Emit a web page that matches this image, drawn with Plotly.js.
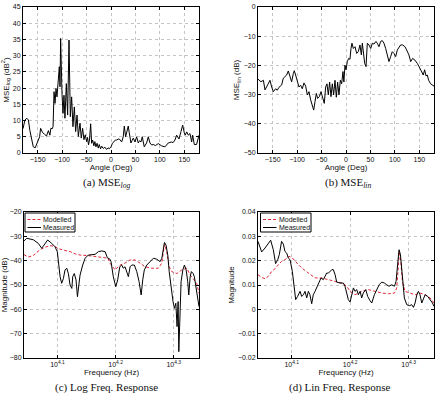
<!DOCTYPE html>
<html><head><meta charset="utf-8">
<script src="https://cdn.plot.ly/plotly-3.0.1.min.js"></script>
<style>html,body{margin:0;padding:0;background:#fff;}#chart{width:435px;height:396px;}</style>
</head><body><div id="chart"></div>
<script>
// (a) MSE_log vs angle
const angleLog = [-180,-176,-172,-169,-166,-162,-159,-155,-152,-149,-146,-144,-140,-136,-132,-128,-125,-123,-120,-118.5,-118,-116.5,-114.5,-112.5,-110.5,-108,-105.7,-104.3,-103,-100.2,-98.2,-96.2,-94.2,-91.4,-88.7,-85.9,-83.2,-80.5,-77.8,-75,-72.3,-69.5,-66.8,-63.4,-60.8,-58,-55.3,-52.6,-49.8,-48,-46,-44,-41.6,-39.6,-37.5,-35,-33,-30.8,-28.5,-26,-24,-21.3,-19,-15.8,-12.5,-9,-6,-3.6,0,3,6,9,11.6,15,18,21.8,25,27.2,29.9,32.6,35.3,37.4,40.8,43,45.6,49,52.4,55.8,58.5,61.3,64,68,72.8,76.3,79.7,83,86.5,91,96.7,103.5,110.4,117.2,124,127,130.8,134.3,139,143.1,146.6,150,152,154.8,158.2,161.6,165,167,170.4,175,180];
const mseLog = [7.5,10.2,10.7,10.2,7,4,1.9,1.6,2.8,4,5,7.6,6.3,5.8,5.2,6.9,5.5,7.6,7.5,8.2,14.8,18.9,15.3,19.9,17.3,22,26.6,20.4,35.3,18.3,12.2,17.8,10.7,21.4,11.7,34.8,11.2,17.3,8.1,14.2,6.6,11.7,5.1,9.2,4.6,7.6,4.1,5.6,3.5,4.8,2.5,4,9,3,4,2.2,3.5,1.9,3,1.5,2.6,1.3,2.1,1.4,1.8,1.1,1.6,1.3,1.9,3,3.6,4,4,4.3,4.2,3.4,5,8.3,5,6.6,8.3,6.2,3.1,3.8,4.6,3.4,5,3.1,3.8,3.4,5,1.9,3.1,5,3.1,2.5,2.6,2.3,2.9,2.2,1.9,3.1,3.4,3.2,4,5.5,4.3,6.6,8.6,6.2,5.5,6.5,5.5,6,3.4,5.5,2.6,2.6,5.5];

// (b) MSE_lin vs angle
const angleLin = [-180,-174,-169,-165.7,-160,-155.5,-152,-148.7,-144,-140.6,-137,-131.6,-128.3,-124.8,-121.4,-118,-114.6,-111.2,-107.8,-105.8,-103,-100.4,-96.2,-92.8,-89.4,-86,-82.5,-79.1,-75.7,-72.3,-68.9,-66.1,-63.4,-60.7,-58,-54.5,-51.2,-47.8,-44.4,-41.6,-38.9,-36.2,-33.5,-30.7,-28,-25.3,-22.5,-19.8,-17.1,-14.4,-11.6,-8.9,-6.2,-4.3,-2.1,0,2.7,5.4,8.1,10.2,12.2,15,18.4,21.8,25.2,28.6,31.4,33.4,35.5,38.2,40.9,43.6,47,50.5,53.9,57.2,61.3,64,67.4,70.9,74.2,77.7,81.1,84.5,87.9,91.3,94.6,98.1,101.6,105,108.3,111.7,115.9,120.6,124,128.7,132.3,136.3,141,145.8,151.3,154.7,158,160.8,163.6,166.3,169,173.1,177.3,180];
const mseLin = [-24.7,-25.6,-25.1,-28.4,-26.6,-25.1,-27.4,-29,-28,-28.5,-27.5,-26.7,-24.4,-23.9,-23.3,-21.9,-23.9,-25.6,-22.8,-21.8,-23.3,-25.1,-27.4,-26.8,-28,-26,-27.1,-30.1,-29,-31.8,-33.6,-35.3,-32.4,-29.6,-31.3,-30.7,-29,-31.3,-33,-27.4,-26.3,-30.1,-25.7,-30.7,-26.3,-30.1,-25.1,-30.9,-25.7,-30.1,-25.1,-26.3,-22.1,-25.7,-19.9,-21.5,-18.7,-17.6,-17.9,-14.2,-12.4,-14.2,-13.6,-15.9,-15.3,-13,-16.4,-12.4,-14.7,-19.3,-20.4,-12.4,-13,-14.2,-12.4,-12.7,-11.8,-12.4,-13.6,-11.8,-11.5,-12.4,-14.2,-17,-18.7,-17,-15.3,-15.9,-17,-14.7,-13.6,-13,-13,-13.6,-14.7,-16.4,-18.7,-17.6,-18.2,-19.3,-21,-22.1,-23.3,-21.5,-23.6,-23.3,-25.1,-26.3,-26.8,-27.1];

// (c) Log frequency response (dB)
const freqLogMeas = [11025,11143,11436,11668,11826,11981,12110,12304,12467,12580,12650,12719,12799,12888,12970,13060,13142,13233,13325,13371,13455,13548,13624,13700,13766,13910,14046,14222,14420,14611,14805,15001,15200,15338,15498,15563,15704,15857,15979,16112,16236,16337,16451,16566,16669,16785,16890,17067,17233,17390,17535,17645,17756,17929,18167,18408,18652,18900,19031,19151,19231,19351,19486,19594,19744,19895,20006,20117,20215,20299,20355,20440,20539,20682,20812,20956,21087,21175,21292,21396,21545,21649,21800,21952,22050];
const magLogMeas = [-31.9,-30.8,-31.4,-32.9,-34.9,-32.9,-31.5,-32.9,-34.3,-36.3,-42.5,-46.6,-49.3,-47.3,-43.8,-43.1,-45.3,-50,-51.4,-46.6,-45.3,-47.9,-54.8,-49.3,-45.9,-41.8,-39,-37.7,-37.7,-37.4,-36.3,-36,-36.3,-38.8,-39.4,-40.4,-46.6,-50.7,-47.9,-42.5,-41.8,-43.1,-42.5,-44.5,-46.6,-42.5,-41.8,-41.8,-44.5,-48.6,-54.1,-47.9,-43.8,-41.8,-40.4,-39,-39.4,-40.4,-39,-34.3,-32.5,-33.6,-37.7,-44.5,-52,-56.8,-59.6,-57.5,-67.1,-56.8,-77.4,-62.3,-48.6,-43.8,-41.8,-43.8,-48.6,-54.1,-46.6,-44.5,-45.3,-46.6,-51.4,-54.8,-58.9];
const freqLogModel = [11025,11201,11420,11745,11981,12223,12467,12617,12818,13233,13501,13766,14320,14897,15380,15498,15810,16129,16451,16785,17114,17459,17803,18291,18770,19031,19151,19231,19402,19594,19796,20198,20594,21012,21292,21550,21851,22050];
const magLogModel = [-37.5,-38.5,-38,-35.5,-34.5,-33.8,-34.2,-35,-35.5,-36.3,-37.2,-37.7,-38,-38.4,-39,-41,-43.8,-41.8,-41,-39.7,-39.7,-41,-42.5,-43.1,-43.1,-41,-35,-33.3,-36.3,-42.5,-44.5,-45.3,-43.8,-43.1,-45.9,-47.3,-49.3,-53.4];

// (d) Linear frequency response
const freqLinMeas = [11025,11186,11335,11485,11589,11710,11816,11915,11990,12098,12183,12259,12344,12421,12508,12621,12717,12788,12886,13012,13093,13184,13267,13359,13443,13527,13621,13706,13802,13888,14024,14131,14259,14359,14449,14549,14640,14742,14834,14938,15031,15230,15432,15529,15635,15735,15844,15943,16054,16155,16267,16369,16483,16586,16690,16853,16982,17136,17255,17436,17594,17766,17952,18139,18304,18470,18663,18871,18989,19121,19214,19321,19415,19523,19618,19809,20016,20198,20338,20466,20608,20737,20867,21012,21144,21291,21513,21708,21917,22050];
const magLinMeas = [0.0279,0.0236,0.0252,0.0273,0.0284,0.0245,0.0188,0.0204,0.0225,0.0279,0.0268,0.0238,0.0231,0.0211,0.0204,0.0156,0.0088,0.004,0.0053,0.0074,0.0053,0.006,0.0074,0.0047,0.0074,0.006,0.0023,0.006,0.0074,0.0088,0.0115,0.0129,0.0122,0.0136,0.0149,0.0149,0.0156,0.0163,0.0163,0.0142,0.0112,0.0108,0.0108,0.0095,0.0067,0.004,0.003,0.006,0.0088,0.0074,0.0081,0.006,0.0074,0.0047,0.0067,0.0081,0.0053,0.0036,0.0026,0.006,0.0081,0.0101,0.0112,0.0108,0.0101,0.0095,0.0101,0.0095,0.0115,0.0204,0.0245,0.0225,0.0156,0.0081,0.0047,0.0019,0.0015,0.0019,0.0008,0.0026,0.006,0.0074,0.006,0.0026,0.0047,0.006,0.0053,0.004,0.0026,0.0012];
const freqLinModel = [11025,11186,11335,11485,11638,11792,11948,12098,12259,12456,12621,12753,12922,13093,13267,13527,13802,14170,14549,14938,15329,15635,15844,16155,16586,17029,17484,17952,18431,18871,19042,19161,19241,19348,19469,19672,20072,20466,20867,21291,21708,22050];
const magLinModel = [0.0142,0.0131,0.0126,0.0136,0.0156,0.0167,0.0184,0.0197,0.0204,0.0218,0.0211,0.0197,0.0184,0.017,0.0159,0.0142,0.0129,0.0129,0.0122,0.0112,0.0108,0.0095,0.0074,0.006,0.0074,0.0081,0.0074,0.0067,0.0064,0.0067,0.0088,0.0211,0.0238,0.0197,0.0115,0.0074,0.0067,0.006,0.0067,0.006,0.0047,0.0026];

// ticks and labels
const angleTicks = [-150,-100,-50,0,50,100,150];
const freqTickVals = [12589.254, 15848.932, 19952.623];
const freqTickText = ['10<sup>4.1</sup>','10<sup>4.2</sup>','10<sup>4.3</sup>'];
const freqRange = [11025, 22050];
const seriesNames = ['Modelled','Measured'];

const W = 435, H = 396;
const PX = x => x / W, PY = y => 1 - y / H;
const sans = '"Liberation Sans", Arial, sans-serif';
const serif = '"Liberation Serif", "DejaVu Serif", serif';
const tickFont = {family: sans, size: 7, color: '#111'};
const titleFont = {family: sans, size: 8, color: '#111'};
const measLine = {color: '#000', width: 1};
const modelLine = {color: '#e0283a', width: 1, dash: '3px,2px'};

function axis(extra) {
  return Object.assign({
    showline: true, linecolor: '#000', linewidth: 1, mirror: 'ticks',
    ticks: 'inside', ticklen: 3, tickcolor: '#000', tickwidth: 1,
    showgrid: true, gridcolor: '#c4c4c4', griddash: 'dot', gridwidth: 1,
    zeroline: false, tickfont: tickFont, automargin: false
  }, extra);
}

const traces = [
  {x: angleLog, y: mseLog, xaxis: 'x', yaxis: 'y', mode: 'lines', line: measLine, showlegend: false},
  {x: angleLin, y: mseLin, xaxis: 'x2', yaxis: 'y2', mode: 'lines', line: measLine, showlegend: false},
  {x: freqLogModel, y: magLogModel, xaxis: 'x3', yaxis: 'y3', mode: 'lines', line: modelLine, name: seriesNames[0], showlegend: false},
  {x: freqLogMeas, y: magLogMeas, xaxis: 'x3', yaxis: 'y3', mode: 'lines', line: measLine, name: seriesNames[1], showlegend: false},
  {x: freqLinModel, y: magLinModel, xaxis: 'x4', yaxis: 'y4', mode: 'lines', line: modelLine, name: seriesNames[0], showlegend: false},
  {x: freqLinMeas, y: magLinMeas, xaxis: 'x4', yaxis: 'y4', mode: 'lines', line: measLine, name: seriesNames[1], showlegend: false}
];

const logR = [Math.log10(freqRange[0]), Math.log10(freqRange[1])];
const layout = {
  width: W, height: H, margin: {l: 0, r: 0, t: 0, b: 0},
  paper_bgcolor: '#fff', plot_bgcolor: '#fff', showlegend: false,
  font: {family: sans, size: 8, color: '#111'},
  xaxis: axis({domain: [PX(23), PX(199)], anchor: 'y', range: [-180, 180], tickvals: angleTicks,
    title: {text: 'Angle (Deg)', font: titleFont, standoff: 0}}),
  yaxis: axis({domain: [PY(153), PY(7)], anchor: 'x', range: [0, 45], dtick: 5,
    title: {text: 'MSE<sub>log</sub> (dB<sup>2</sup>)', font: titleFont, standoff: 2}}),
  xaxis2: axis({domain: [PX(258), PX(434)], anchor: 'y2', range: [-180, 180], tickvals: angleTicks,
    title: {text: 'Angle (Deg)', font: titleFont, standoff: 0}}),
  yaxis2: axis({domain: [PY(153), PY(7)], anchor: 'x2', range: [-50, 0], dtick: 10,
    title: {text: 'MSE<sub>lin</sub> (dB)', font: titleFont, standoff: 2}}),
  xaxis3: axis({domain: [PX(24), PX(199)], anchor: 'y3', type: 'log', range: logR,
    tickmode: 'array', tickvals: freqTickVals, ticktext: freqTickText,
    title: {text: 'Frequency (Hz)', font: titleFont, standoff: 1}}),
  yaxis3: axis({domain: [PY(358), PY(212)], anchor: 'x3', range: [-80, -20], dtick: 10,
    title: {text: 'Magnitude (dB)', font: titleFont, standoff: 2}}),
  xaxis4: axis({domain: [PX(258), PX(434)], anchor: 'y4', type: 'log', range: logR,
    tickmode: 'array', tickvals: freqTickVals, ticktext: freqTickText,
    title: {text: 'Frequency (Hz)', font: titleFont, standoff: 1}}),
  yaxis4: axis({domain: [PY(358), PY(212)], anchor: 'x4', range: [-0.02, 0.04], dtick: 0.01,
    title: {text: 'Magnitude', font: titleFont, standoff: 2}}),
  annotations: [],
  shapes: []
};

// sub-figure captions
const captions = [
  ['(a) MSE<sub><i>log</i></sub>', 106.5, 183],
  ['(b) MSE<sub><i>lin</i></sub>', 348, 183],
  ['(c) Log Freq. Response', 106.7, 387],
  ['(d) Lin Freq. Response', 340, 387]
];
captions.forEach(c => layout.annotations.push({
  text: c[0], x: PX(c[1]), y: PY(c[2]), xref: 'paper', yref: 'paper',
  xanchor: 'center', yanchor: 'middle', showarrow: false,
  font: {family: serif, size: 11, color: '#111'}
}));

// compact legend boxes (MATLAB style) for (c) and (d)
function legendBox(x0, x1, y0, y1, lx0, lx1, tx) {
  layout.shapes.push({type: 'rect', xref: 'paper', yref: 'paper', x0: PX(x0), x1: PX(x1), y0: PY(y1), y1: PY(y0),
    line: {color: '#000', width: 1}, fillcolor: '#fff', layer: 'above'});
  const rows = [y0 + 6.5, y0 + 14.5];
  [modelLine, measLine].forEach((ln, i) => {
    layout.shapes.push({type: 'line', xref: 'paper', yref: 'paper', x0: PX(lx0), x1: PX(lx1), y0: PY(rows[i]), y1: PY(rows[i]),
      line: ln, layer: 'above'});
    layout.annotations.push({text: seriesNames[i], x: PX(tx), y: PY(rows[i]), xref: 'paper', yref: 'paper',
      xanchor: 'left', yanchor: 'middle', showarrow: false, font: {family: sans, size: 7, color: '#111'}});
  });
}
legendBox(25, 75, 213, 232, 27.5, 41, 41);
legendBox(260.5, 311, 213, 232, 263, 276.5, 276.5);

Plotly.newPlot('chart', traces, layout, {staticPlot: true, displayModeBar: false});
</script>
</body></html>
